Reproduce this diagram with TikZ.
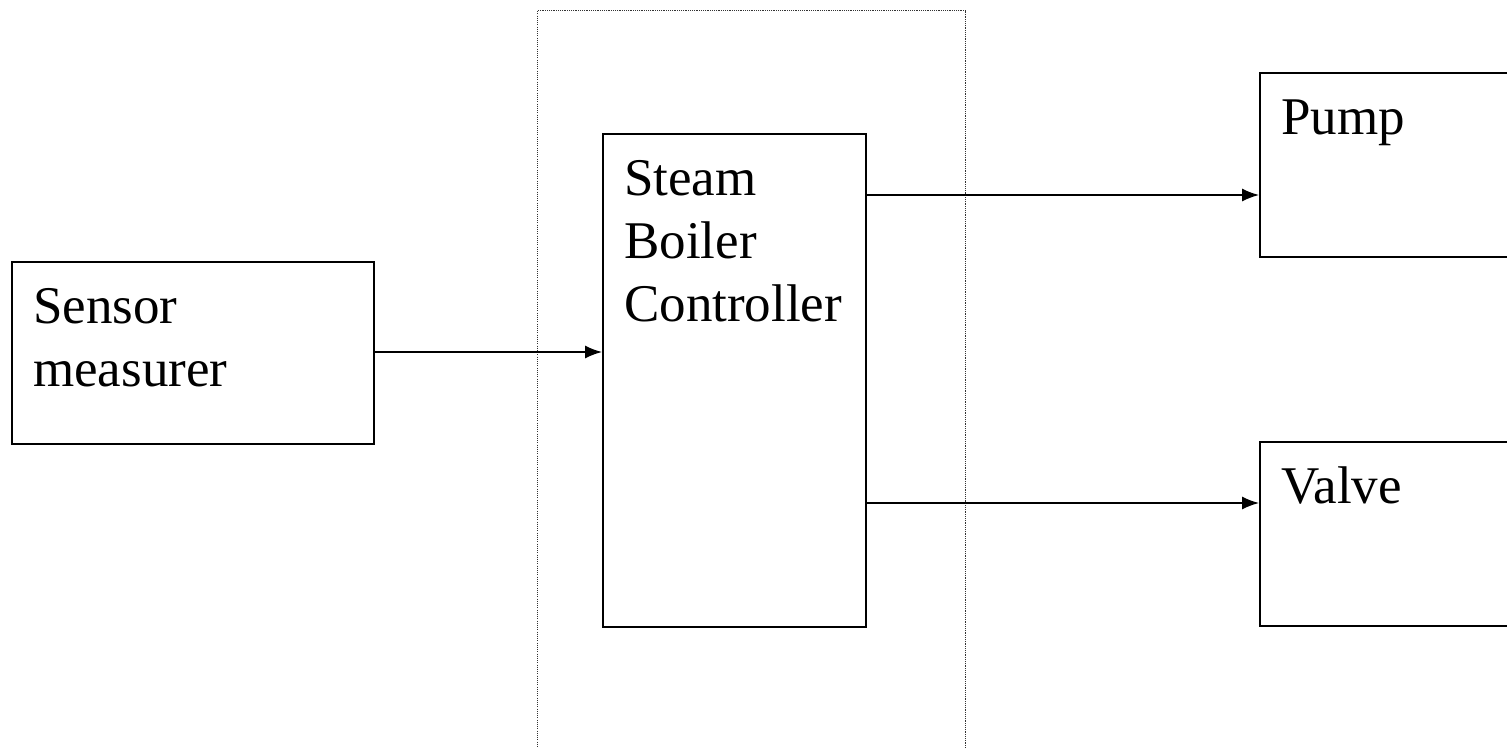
\documentclass[tikz,border=0pt]{standalone}
\usepackage{fontspec}
\setmainfont{Liberation Serif}
\usetikzlibrary{arrows.meta}
\begin{document}
\begin{tikzpicture}[x=1pt,y=1pt,
  blockbox/.style={draw=black,line width=1.6pt,rectangle,inner sep=0pt,anchor=north west},
  blocktext/.style={inner sep=0pt,anchor=base west,align=left,font=\fontsize{53}{63}\selectfont},
  flow/.style={line width=1.4pt,-{Latex[length=17pt,width=13pt]}},
  boundary/.style={draw=black!80,line width=1.1pt,dash pattern=on 1.1pt off 1.1pt}]
\useasboundingbox (0,-747) rectangle (1507,0);
\clip (0,-747) rectangle (1507,0);
\fill[white] (0,-747) rectangle (1507,0);
% dotted system boundary
\node[boundary,rectangle,inner sep=0pt,anchor=north west,minimum width=428pt,minimum height=800pt] (sys) at (537,-10) {};
% blocks
\node[blockbox,minimum width=362pt,minimum height=182pt] (sensor) at (11,-261) {};
\node[blockbox,minimum width=263pt,minimum height=493pt] (ctrl) at (602,-133) {};
\node[blockbox,minimum width=320pt,minimum height=184pt] (pump) at (1259,-72) {};
\node[blockbox,minimum width=320pt,minimum height=184pt] (valve) at (1259,-441) {};
% texts (anchor is the baseline of the last line)
\node[blocktext] (sensortxt) at ([shift={(22,-125)}]sensor.north west) {Sensor\\measurer};
\node[blocktext] (ctrltxt) at ([shift={(22,-188)}]ctrl.north west) {Steam\\Boiler\\Controller};
\node[blocktext] (pumptxt) at ([shift={(22,-62)}]pump.north west) {Pump};
\node[blocktext] (valvetxt) at ([shift={(22,-62)}]valve.north west) {Valve};
% connectors
\coordinate (c1) at (ctrl.east |- 0,-195);
\coordinate (c2) at (ctrl.east |- 0,-503);
\coordinate (s1) at (sensor.east |- 0,-352);
\draw[flow] (s1) -- (ctrl.west |- s1);
\draw[flow] (c1) -- (pump.west |- c1);
\draw[flow] (c2) -- (valve.west |- c2);
\end{tikzpicture}
\end{document}
